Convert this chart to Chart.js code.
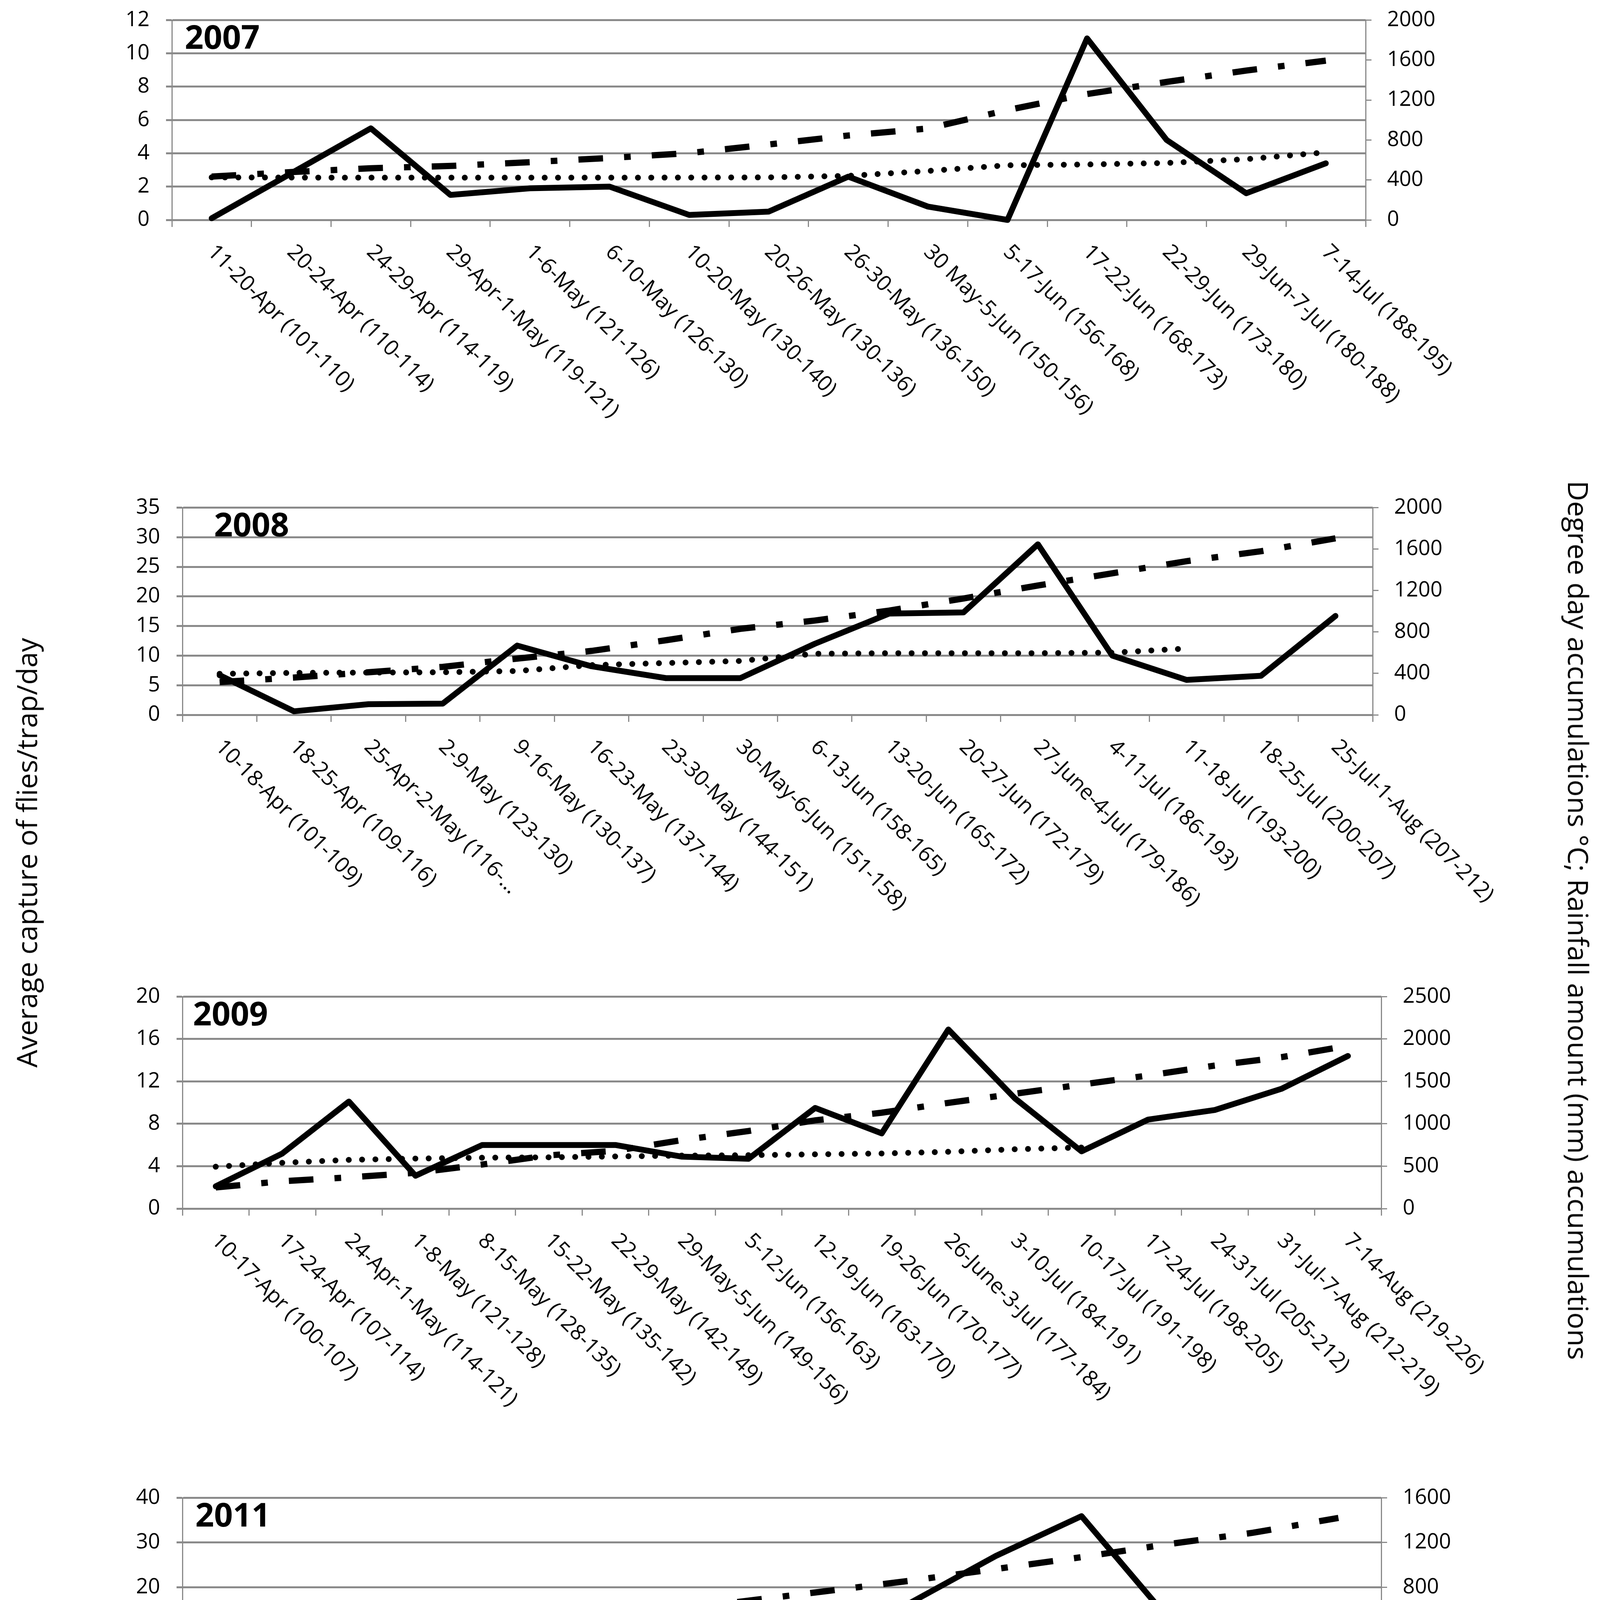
<!DOCTYPE html>
<html>
<head>
<meta charset="utf-8">
<title>Flies capture, DDA and rainfall 2007-2011</title>
<script src="https://cdn.jsdelivr.net/npm/chart.js@4.4.1/dist/chart.umd.min.js"></script>
<style>
  html, body { margin: 0; padding: 0; background: #fff; }
  body { width: 4132px; height: 5237px; position: relative; overflow: hidden; font-family: 'Open Sans', sans-serif; color: #000; }
  canvas { position: absolute; left: 0; }
  .title { position: absolute; font-size: 72px; white-space: nowrap; line-height: 1; }
  .legend-text { position: absolute; font-size: 54px; white-space: nowrap; line-height: 1; transform: translateY(-50%); }
</style>
</head>
<body>
<canvas id="chart2007"></canvas>
<canvas id="chart2008"></canvas>
<canvas id="chart2009"></canvas>
<canvas id="chart2011"></canvas>

<div class="title" style="left:67px; top:2183px; transform:translate(-50%,-50%) rotate(-90deg);">Average capture of flies/trap/day</div>
<div class="title" style="left:4042px; top:2356px; transform:translate(-50%,-50%) rotate(90deg);">Degree day accumulations °C; Rainfall amount (mm) accumulations</div>
<div class="title" style="left:2083px; top:5148px; transform:translate(-50%,-50%);">Calendar date (Julian days)</div>

<svg width="4132" height="60" style="position:absolute; left:0; top:4875px;">
  <line x1="866" y1="30" x2="1083" y2="30" stroke="#000" stroke-width="15"/>
  <line x1="1856" y1="30" x2="2083" y2="30" stroke="#000" stroke-width="16" stroke-dasharray="63 54 17 54"/>
  <line x1="2350" y1="30" x2="2549" y2="30" stroke="#000" stroke-width="15" stroke-linecap="round" stroke-dasharray="0.1 34"/>
</svg>
<div class="legend-text" style="left:1093px; top:4905px;">number of flies/trap/day</div>
<div class="legend-text" style="left:2093px; top:4905px;">DDA</div>
<div class="legend-text" style="left:2566px; top:4905px;">cumulative amount of rainfall</div>

<script>
// 2007
const labels2007 = ['11-20-Apr (101-110)', '20-24-Apr (110-114)', '24-29-Apr (114-119)', '29-Apr-1-May (119-121)', '1-6-May (121-126)', '6-10-May (126-130)', '10-20-May (130-140)', '20-26-May (130-136)', '26-30-May (136-150)', '30 May-5-Jun (150-156)', '5-17-Jun (156-168)', '17-22-Jun (168-173)', '22-29-Jun (173-180)', '29-Jun-7-Jul (180-188)', '7-14-Jul (188-195)'];
const flies2007 = [0.1, 2.8, 5.5, 1.5, 1.9, 2.0, 0.3, 0.5, 2.6, 0.8, 0, 10.9, 4.8, 1.6, 3.4];
const dda2007 = [434, 479, 517, 540, 578, 620, 669, 755, 845, 915, 1100, 1260, 1381, 1495, 1594];
const rain2007 = [426, 424, 423, 423, 423, 423, 424, 426, 441, 490, 547, 555, 570, 608, 676];

// 2008
const labels2008 = ['10-18-Apr (101-109)', '18-25-Apr (109-116)', '25-Apr-2-May (116-…', '2-9-May (123-130)', '9-16-May (130-137)', '16-23-May (137-144)', '23-30-May (144-151)', '30-May-6-Jun (151-158)', '6-13-Jun (158-165)', '13-20-Jun (165-172)', '20-27-Jun (172-179)', '27-June-4-Jul (179-186)', '4-11-Jul (186-193)', '11-18-Jul (193-200)', '18-25-Jul (200-207)', '25-Jul-1-Aug (207-212)'];
const flies2008 = [6.7, 0.6, 1.8, 1.9, 11.7, 8.2, 6.2, 6.2, 12.0, 17.1, 17.3, 28.8, 10.0, 5.9, 6.6, 16.7];
const dda2008 = [316, 360, 411, 463, 543, 617, 720, 830, 910, 1006, 1123, 1248, 1366, 1483, 1579, 1703];
const rain2008 = [396, 405, 408, 411, 423, 480, 500, 520, 590, 595, 595, 595, 600, 640, null, null];

// 2009
const labels2009 = ['10-17-Apr (100-107)', '17-24-Apr (107-114)', '24-Apr-1-May (114-121)', '1-8-May (121-128)', '8-15-May (128-135)', '15-22-May (135-142)', '22-29-May (142-149)', '29-May-5-Jun (149-156)', '5-12-Jun (156-163)', '12-19-Jun (163-170)', '19-26-Jun (170-177)', '26-June-3-Jul (177-184)', '3-10-Jul (184-191)', '10-17-Jul (191-198)', '17-24-Jul (198-205)', '24-31-Jul (205-212)', '31-Jul-7-Aug (212-219)', '7-14-Aug (219-226)'];
const flies2009 = [2.1, 5.2, 10.1, 3.1, 6.0, 6.0, 6.0, 4.9, 4.7, 9.5, 7.1, 16.9, 10.4, 5.4, 8.4, 9.3, 11.3, 14.4];
const dda2009 = [250, 323, 368, 422, 520, 628, 682, 808, 915, 1041, 1131, 1247, 1355, 1463, 1570, 1687, 1786, 1920];
const rain2009 = [494, 540, 575, 590, 600, 605, 615, 625, 630, 640, 650, 670, 700, 720, null, null, null, null];

// 2011
const labels2011 = ['8-14-Apr (98-104)', '14-21-Apr (104-111)', '21-28-Apr (111-118)', '28-Apr-5-May (118-125)', '5-12-May (125-132)', '12-19-May (132-139)', '19-26-May (139-146)', '26-May-2-Jun (146-153)', '2-9-Jun (153-160)', '9-16-Jun (160-167)', '16-23-Jun (167-174)', '23-30-Jun (174-181)', '30-Jun-7-Jul (181-188)', '7-14-Jul (188-195)'];
const flies2011 = [4.1, 2.75, 6.5, 10.6, 7.1, 5.5, 8.3, 5.8, 16.5, 27, 35.9, 13.3, 12.2, 14.2];
const dda2011 = [287, 319, 362, 439, 503, 574, 669, 763, 858, 963, 1069, 1184, 1287, 1420];
const rain2011 = [238, 241, 267, 272, 278, 290, 313, 383, 441, 475, 493, 499, 499, 499];

const PAGE_W = 4132;
const LABEL_H = 520;
const GRID = '#8a8a8a';
const FONT = "'Open Sans', sans-serif";

Chart.defaults.font.family = FONT;
Chart.defaults.color = '#000';

// rotated category labels + year tag, drawn at the scale's own tick positions
const decorPlugin = {
  id: 'decor',
  afterDraw(chart, args, opts) {
    const ctx = chart.ctx;
    const xs = chart.scales.x;
    const area = chart.chartArea;
    ctx.save();
    ctx.fillStyle = '#000';
    ctx.font = '55px ' + FONT;
    ctx.textAlign = 'left';
    ctx.textBaseline = 'middle';
    chart.data.labels.forEach((lab, i) => {
      const x = xs.getPixelForValue(i);
      ctx.save();
      ctx.translate(x - 2, area.bottom + 74);
      ctx.rotate(Math.PI / 4);
      ctx.fillText(lab, 0, 0);
      ctx.restore();
    });
    ctx.font = 'bold 84px ' + FONT;
    ctx.textBaseline = 'alphabetic';
    ctx.fillText(opts.year, area.left + opts.yearDx, area.top + 74);
    ctx.restore();
  }
};

const plainTick = (v) => String(v);

const makePanel = (cfg) => {
  const canvas = document.getElementById(cfg.id);
  let h = 40 + cfg.plotH + LABEL_H;
  canvas.width = PAGE_W;
  canvas.height = h;
  canvas.style.width = PAGE_W + 'px';
  canvas.style.height = h + 'px';

  const chart = new Chart(canvas, {
    type: 'line',
    data: {
      labels: cfg.labels,
      datasets: [
        {
          label: 'number of flies/trap/day',
          data: cfg.flies,
          yAxisID: 'y',
          borderColor: '#000',
          borderWidth: 15,
          borderJoinStyle: 'round',
          borderCapStyle: 'round',
          pointRadius: 0,
          tension: 0,
          clip: false
        },
        {
          label: 'DDA',
          data: cfg.dda,
          yAxisID: 'y1',
          borderColor: '#000',
          borderWidth: 16,
          borderDash: [63, 54, 17, 54],
          pointRadius: 0,
          tension: 0,
          clip: false
        },
        {
          label: 'cumulative amount of rainfall',
          data: cfg.rain,
          yAxisID: 'y1',
          borderColor: '#000',
          borderWidth: 15,
          borderDash: [0.1, 34],
          borderCapStyle: 'round',
          pointRadius: 0,
          tension: 0,
          clip: false
        }
      ]
    },
    options: {
      responsive: false,
      animation: false,
      devicePixelRatio: 1,
      layout: { padding: { top: 10, left: 0, right: 0, bottom: 0 } },
      plugins: {
        legend: { display: false },
        tooltip: { enabled: false },
        decor: { year: cfg.year, yearDx: cfg.yearDx }
      },
      scales: {
        x: {
          offset: true,
          grid: { offset: true, drawOnChartArea: false, drawTicks: true, tickLength: 18, color: GRID, lineWidth: 3 },
          border: { display: false },
          ticks: { display: false },
          afterFit: (s) => { s.height = LABEL_H; }
        },
        y: {
          position: 'left',
          min: 0,
          max: cfg.leftMax,
          ticks: { stepSize: cfg.leftStep, padding: 42, font: { size: 54 }, color: '#000', callback: plainTick },
          grid: { color: GRID, lineWidth: 5, tickLength: 15 },
          border: { display: true, color: GRID, width: 3 },
          afterFit: (s) => { s.width = cfg.left; }
        },
        y1: {
          position: 'right',
          min: 0,
          max: cfg.rightMax,
          ticks: { stepSize: cfg.rightStep, padding: 40, font: { size: 54 }, color: '#000', callback: plainTick },
          grid: { drawOnChartArea: false, color: GRID, lineWidth: 3, tickLength: 15 },
          border: { display: true, color: GRID, width: 3 },
          afterFit: (s) => { s.width = PAGE_W - cfg.right; }
        }
      }
    },
    plugins: [decorPlugin]
  });

  // place the canvas so the plot area lands where the reference has it
  for (let k = 0; k < 3; k++) {
    const area = chart.chartArea;
    const diff = cfg.plotH - (area.bottom - area.top);
    if (Math.abs(diff) < 0.5) break;
    h = Math.round(h + diff);
    chart.resize(PAGE_W, h);
  }
  canvas.style.top = Math.round(cfg.top - chart.chartArea.top) + 'px';
  return chart;
};

makePanel({ id: 'chart2007', year: '2007', yearDx: 33, top: 51, plotH: 546, left: 440, right: 3496,
  labels: labels2007, flies: flies2007, dda: dda2007, rain: rain2007, leftMax: 12, leftStep: 2, rightMax: 2000, rightStep: 400 });
makePanel({ id: 'chart2008', year: '2008', yearDx: 81, top: 1299, plotH: 565, left: 467, right: 3514,
  labels: labels2008, flies: flies2008, dda: dda2008, rain: rain2008, leftMax: 35, leftStep: 5, rightMax: 2000, rightStep: 400 });
makePanel({ id: 'chart2009', year: '2009', yearDx: 27, top: 2551, plotH: 577, left: 467, right: 3536,
  labels: labels2009, flies: flies2009, dda: dda2009, rain: rain2009, leftMax: 20, leftStep: 4, rightMax: 2500, rightStep: 500 });
makePanel({ id: 'chart2011', year: '2011', yearDx: 33, top: 3834, plotH: 492, left: 467, right: 3536,
  labels: labels2011, flies: flies2011, dda: dda2011, rain: rain2011, leftMax: 40, leftStep: 10, rightMax: 1600, rightStep: 400 });
</script>
</body>
</html>
